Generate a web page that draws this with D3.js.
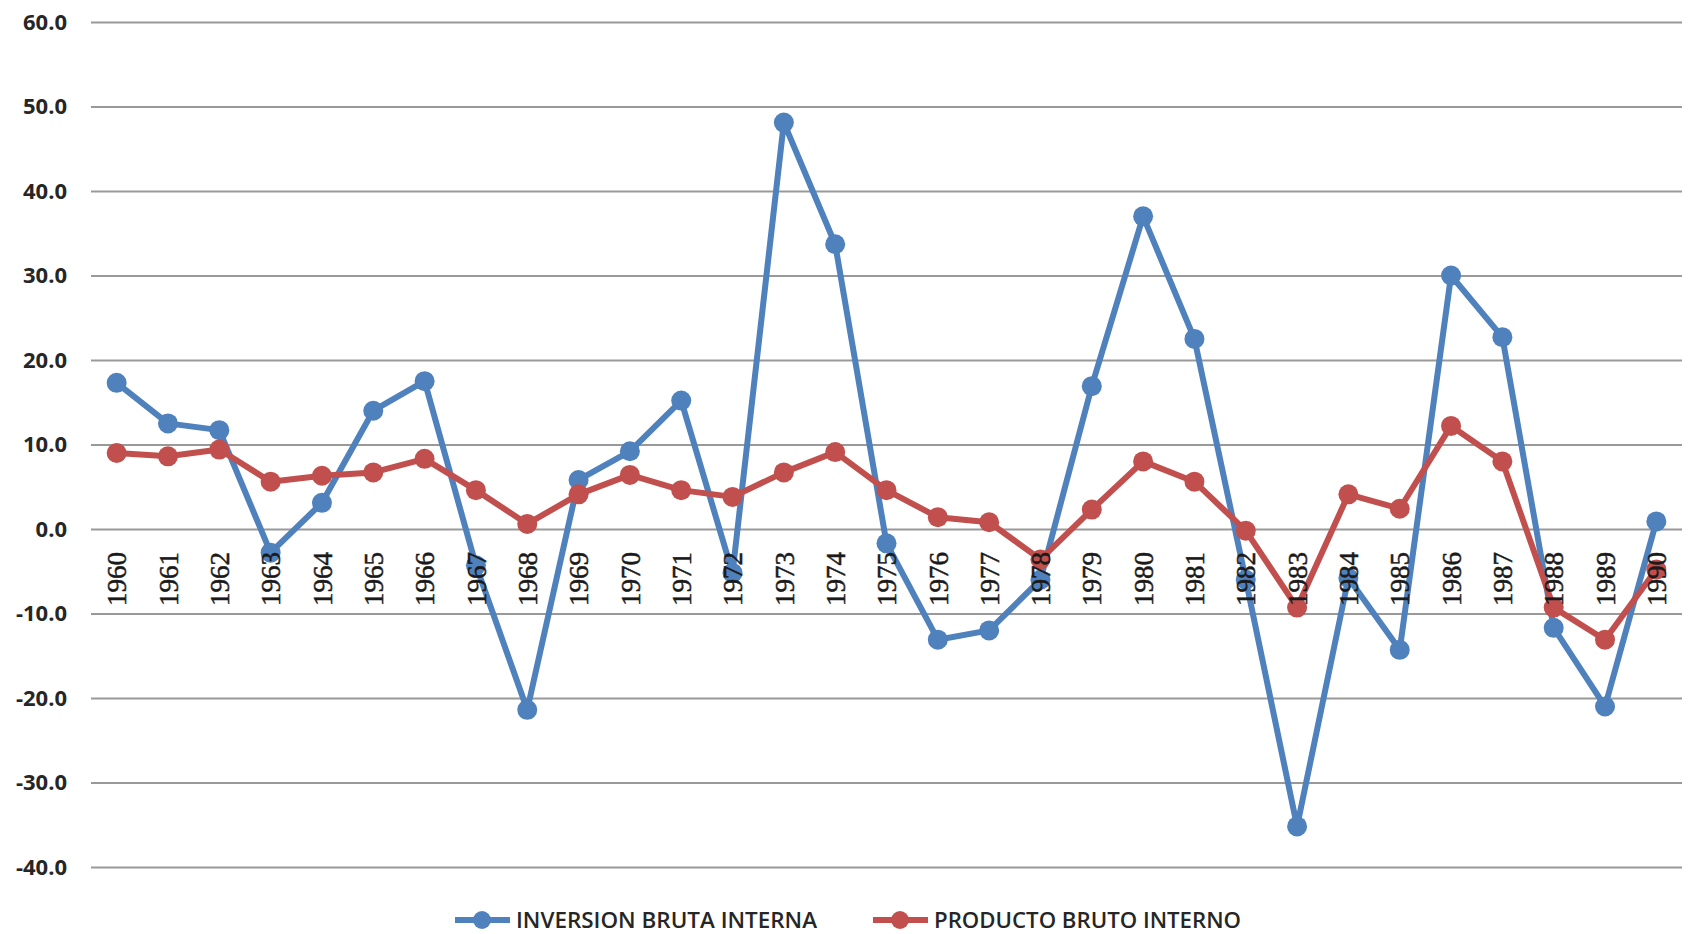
<!DOCTYPE html>
<html lang="es">
<head>
    <meta charset="UTF-8">
    <title>Inversion bruta interna y producto bruto interno</title>
    <script src="https://cdn.jsdelivr.net/npm/d3@7"></script>
    <style>
        body {
            margin: 0;
            background: white;
        }
        svg {
            display: block;
        }
        .yAxis text {
            font-family: "Open Sans", sans-serif;
            font-weight: 700;
            font-size: 22px;
            fill: #262626;
        }
        .yAxis line {
            stroke: #999;
            stroke-width: 2;
        }
        .xAxis text {
            font-family: "Liberation Serif", "DejaVu Serif", serif;
            font-size: 27px;
            fill: #1a1a1a;
            stroke: #1a1a1a;
            stroke-width: 0.5;
        }
        .legend text {
            font-family: "Open Sans", sans-serif;
            font-weight: 600;
            font-size: 22px;
            fill: #262626;
        }
    </style>
</head>
<body>
    <script>
        // data (variacion % anual)
        const years = ["1960", "1961", "1962", "1963", "1964", "1965", "1966", "1967", "1968", "1969",
            "1970", "1971", "1972", "1973", "1974", "1975", "1976", "1977", "1978", "1979",
            "1980", "1981", "1982", "1983", "1984", "1985", "1986", "1987", "1988", "1989", "1990"];
        const inversion = [17.3, 12.5, 11.7, -2.8, 3.1, 14.0, 17.5, -4.3, -21.4, 5.8,
            9.2, 15.2, -5.2, 48.1, 33.7, -1.7, -13.1, -12.0, -6.0, 16.9,
            37.0, 22.5, -6.0, -35.2, -5.8, -14.3, 30.0, 22.7, -11.7, -21.0, 0.9];
        const producto = [9.0, 8.6, 9.4, 5.6, 6.3, 6.7, 8.3, 4.6, 0.6, 4.1,
            6.4, 4.6, 3.8, 6.7, 9.1, 4.6, 1.4, 0.8, -3.6, 2.3,
            8.0, 5.6, -0.2, -9.3, 4.1, 2.4, 12.2, 8.0, -9.3, -13.1, -4.8];
        const yTicks = [-40, -30, -20, -10, 0, 10, 20, 30, 40, 50, 60];
        const seriesNames = ["INVERSION BRUTA INTERNA", "PRODUCTO BRUTO INTERNO"];
        const colors = ["#4F81BD", "#C0504D"];

        const width = 1688;
        const height = 934;
        const plotLeft = 91, plotRight = 1682, plotTop = 22, plotBottom = 867;

        let svg = d3.select("body").append("svg")
            .attr("width", width)
            .attr("height", height);

        // soft edge like the original image
        svg.append("defs").append("filter")
            .attr("id", "soft")
            .attr("filterUnits", "userSpaceOnUse")
            .attr("x", -2000).attr("y", -2000)
            .attr("width", 6000).attr("height", 6000)
            .append("feGaussianBlur")
            .attr("stdDeviation", 0.7);

        let x = d3.scalePoint()
            .domain(years)
            .range([plotLeft, plotRight])
            .padding(0.5);

        let y = d3.scaleLinear()
            .domain([-40, 60])
            .range([plotBottom, plotTop]);

        //gridlines + y labels
        let yAxis = svg.append("g")
            .attr("class", "yAxis")
            .attr("transform", `translate(${plotLeft},0)`)
            .call(d3.axisLeft(y)
                .tickValues(yTicks)
                .tickSize(-(plotRight - plotLeft))
                .tickPadding(24)
                .tickFormat(d => d.toFixed(1)));
        yAxis.select(".domain").remove();

        //series
        let series = [inversion, producto];
        let gSeries = svg.append("g").attr("filter", "url(#soft)");

        let line = d3.line()
            .x((d, i) => x(years[i]))
            .y(d => y(d));

        series.forEach((values, k) => {
            let g = gSeries.append("g");
            g.append("path")
                .datum(values)
                .attr("d", line)
                .attr("fill", "none")
                .attr("stroke", colors[k])
                .attr("stroke-width", 6)
                .attr("stroke-linejoin", "round");
            g.selectAll("circle")
                .data(values)
                .enter()
                .append("circle")
                .attr("cx", (d, i) => x(years[i]))
                .attr("cy", d => y(d))
                .attr("r", 10)
                .attr("fill", colors[k]);
        });

        //year labels sit on top of the lines
        let xAxis = svg.append("g")
            .attr("class", "xAxis")
            .attr("transform", `translate(0,${y(0)})`)
            .call(d3.axisBottom(x).tickSize(0).tickPadding(0));
        xAxis.select(".domain").remove();
        xAxis.attr("font-family", null).attr("font-size", null);
        xAxis.selectAll("text")
            .attr("transform", "rotate(-90)")
            .attr("text-anchor", "end")
            .attr("x", -23)
            .attr("y", 0)
            .attr("dy", "0.34em");

        //legend
        let legendItems = [
            { name: seriesNames[0], color: colors[0], x0: 455, len: 301 },
            { name: seriesNames[1], color: colors[1], x0: 873, len: 307 }
        ];
        let legend = svg.append("g").attr("class", "legend");
        let gLegend = legend.selectAll("g")
            .data(legendItems)
            .enter()
            .append("g")
            .attr("transform", d => `translate(${d.x0},920)`);
        let gKey = gLegend.append("g").attr("filter", "url(#soft)");
        gKey.append("line")
            .attr("x1", 0)
            .attr("x2", 55)
            .attr("stroke", d => d.color)
            .attr("stroke-width", 6);
        gKey.append("circle")
            .attr("cx", 27)
            .attr("r", 9)
            .attr("fill", d => d.color);
        gLegend.append("text")
            .attr("x", 61)
            .attr("dy", "0.36em")
            .attr("textLength", d => d.len)
            .attr("lengthAdjust", "spacingAndGlyphs")
            .text(d => d.name);
    </script>
</body>
</html>
